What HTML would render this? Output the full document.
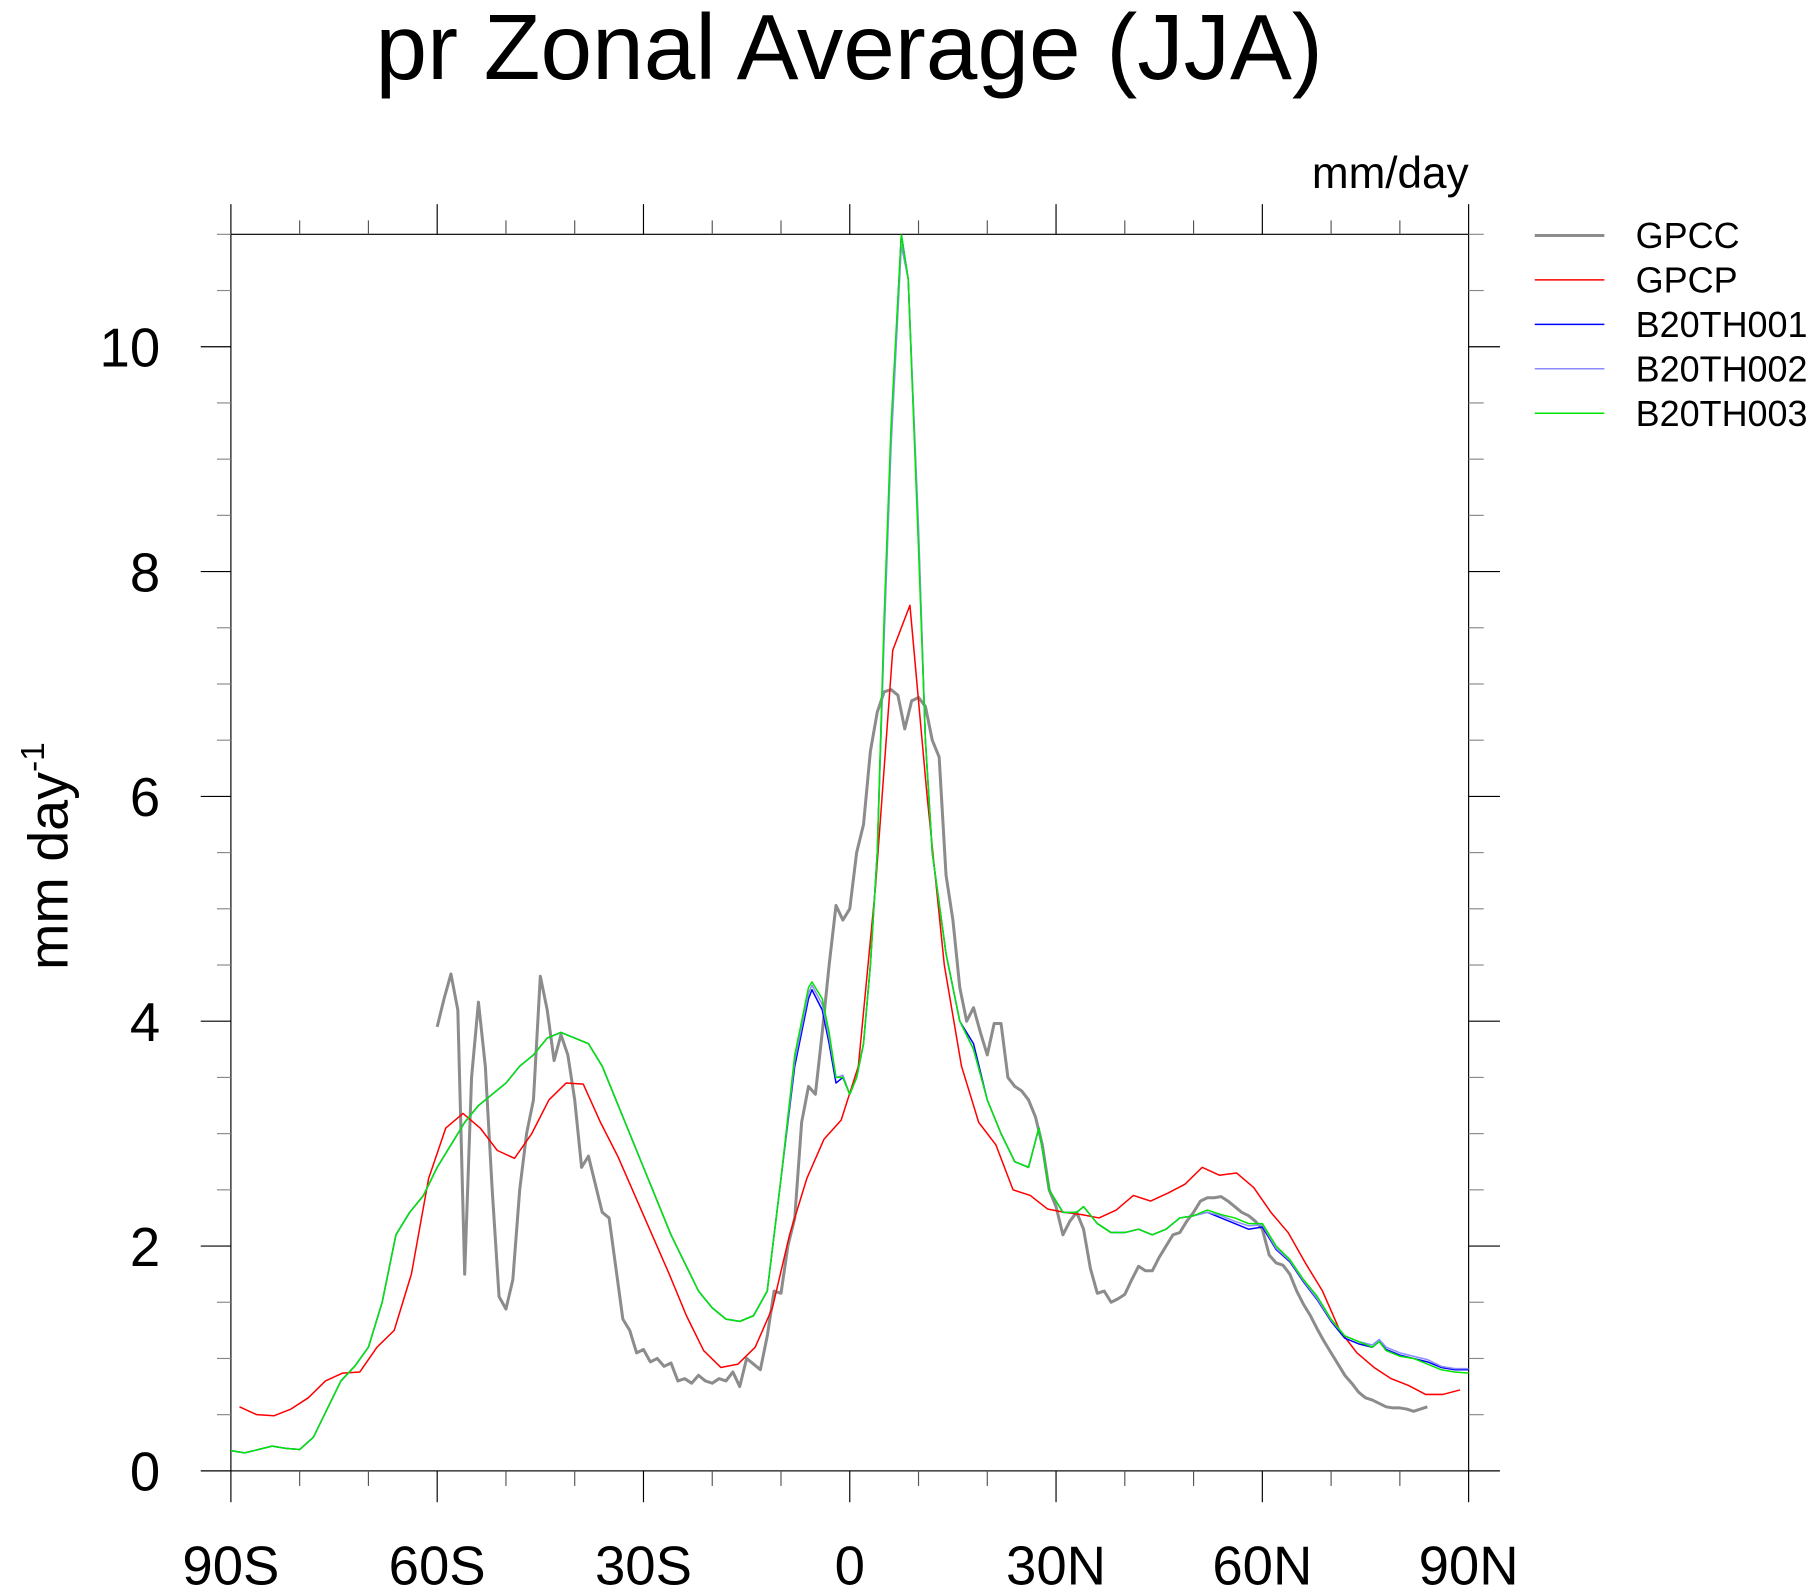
<!DOCTYPE html>
<html><head><meta charset="utf-8"><style>html,body{margin:0;padding:0;background:#fff}svg{display:block}text{font-family:"Liberation Sans",sans-serif}</style></head>
<body>
<svg id="chart" width="1819" height="1595" viewBox="0 0 1568 1375" xmlns="http://www.w3.org/2000/svg">
<text x="732" y="68" font-size="80" text-anchor="middle">pr Zonal Average (JJA)</text>
<text x="1266" y="162" font-size="38" text-anchor="end">mm/day</text>
<text transform="translate(58,738) rotate(-90)" font-size="48" text-anchor="middle">mm day<tspan font-size="29" dy="-20">-1</tspan></text>
<g id="axes"></g>
<g id="series"></g>
<g id="legend"></g>
</svg>
<script>
const xTickLats=[-90,-60,-30,0,30,60,90];
const xTickLabels=["90S","60S","30S","0","30N","60N","90N"];
const yTicks=[0,2,4,6,8,10];
const yTickLabels=["0","2","4","6","8","10"];

const gpccLat=[-60,-59,-58,-57,-56,-55,-54,-53,-52,-51,-50,-49,-48,-47,-46,-45,-44,-43,-42,-41,-40,-39,-38,-37,-36,-35,-34,-33,-32,-31,-30,-29,-28,-27,-26,-25,-24,-23,-22,-21,-20,-19,-18,-17,-16,-15,-14,-13,-12,-11,-10,-9,-8,-7,-6,-5,-4,-3,-2,-1,0,1,2,3,4,5,6,7,8,9,10,11,12,13,14,15,16,17,18,19,20,21,22,23,24,25,26,27,28,29,30,31,32,33,34,35,36,37,38,39,40,41,42,43,44,45,46,47,48,49,50,51,52,53,54,55,56,57,58,59,60,61,62,63,64,65,66,67,68,69,70,71,72,73,74,75,76,77,78,79,80,81,82,83,84];
const gpccVal=[3.95,4.2,4.42,4.1,1.75,3.5,4.17,3.6,2.5,1.55,1.44,1.7,2.5,3.0,3.3,4.4,4.1,3.65,3.88,3.7,3.3,2.7,2.8,2.55,2.3,2.25,1.8,1.35,1.25,1.05,1.08,0.97,1.0,0.93,0.96,0.8,0.82,0.78,0.85,0.8,0.78,0.82,0.8,0.88,0.75,1.0,0.95,0.9,1.2,1.6,1.58,2.0,2.25,3.1,3.42,3.35,3.9,4.5,5.03,4.9,5.0,5.5,5.75,6.4,6.75,6.93,6.95,6.9,6.6,6.85,6.88,6.8,6.5,6.35,5.3,4.9,4.3,4.0,4.12,3.9,3.7,3.98,3.98,3.5,3.42,3.38,3.3,3.15,2.9,2.5,2.35,2.1,2.22,2.3,2.15,1.8,1.58,1.6,1.5,1.53,1.57,1.7,1.82,1.78,1.78,1.9,2.0,2.1,2.12,2.22,2.3,2.4,2.43,2.43,2.44,2.4,2.35,2.3,2.27,2.22,2.15,1.92,1.85,1.83,1.75,1.6,1.48,1.38,1.26,1.15,1.05,0.95,0.85,0.78,0.7,0.65,0.63,0.6,0.57,0.56,0.56,0.55,0.53,0.55,0.57];

const gpcpLat=[-88.75,-86.25,-83.75,-81.25,-78.75,-76.25,-73.75,-71.25,-68.75,-66.25,-63.75,-61.25,-58.75,-56.25,-53.75,-51.25,-48.75,-46.25,-43.75,-41.25,-38.75,-36.25,-33.75,-31.25,-28.75,-26.25,-23.75,-21.25,-18.75,-16.25,-13.75,-11.25,-8.75,-6.25,-3.75,-1.25,1.25,3.75,6.25,8.75,11.25,13.75,16.25,18.75,21.25,23.75,26.25,28.75,31.25,33.75,36.25,38.75,41.25,43.75,46.25,48.75,51.25,53.75,56.25,58.75,61.25,63.75,66.25,68.75,71.25,73.75,76.25,78.75,81.25,83.75,86.25,88.75];
const gpcpVal=[0.57,0.5,0.49,0.55,0.65,0.8,0.87,0.88,1.1,1.25,1.75,2.6,3.05,3.18,3.05,2.85,2.78,3.0,3.3,3.45,3.44,3.1,2.8,2.45,2.1,1.75,1.38,1.07,0.92,0.95,1.1,1.45,2.1,2.6,2.95,3.12,3.6,5.2,7.3,7.7,6.0,4.5,3.6,3.1,2.9,2.5,2.45,2.33,2.3,2.28,2.25,2.32,2.45,2.4,2.47,2.55,2.7,2.63,2.65,2.52,2.3,2.12,1.85,1.6,1.25,1.05,0.92,0.82,0.76,0.68,0.68,0.72];

const modelLat=[-90,-88,-86,-84,-82,-80,-78,-76,-74,-72,-70,-68,-66,-64,-62,-60,-58,-56,-54,-52,-50,-48,-46,-44,-42,-40,-38,-36,-34,-32,-30,-28,-26,-24,-22,-20,-18,-16,-14,-12,-10,-8,-6,-5.5,-4,-3,-2,-1,0,1,2,3,4,5,6,7.5,8.5,10,11,12,14,16,18,20,22,24,26,27.5,29,31,33,34,36,38,40,42,44,46,48,50,52,54,56,58,60,62,64,66,68,70,72,74,76,77,78,80,82,84,86,88,90];
const b001Val=[0.18,0.16,0.19,0.22,0.2,0.19,0.3,0.55,0.8,0.93,1.1,1.5,2.1,2.3,2.45,2.7,2.9,3.1,3.25,3.35,3.45,3.6,3.7,3.85,3.9,3.85,3.8,3.6,3.3,3.0,2.7,2.4,2.1,1.85,1.6,1.45,1.35,1.33,1.38,1.6,2.6,3.6,4.2,4.28,4.1,3.8,3.45,3.5,3.35,3.5,3.8,4.5,5.5,7.5,9.2,11,10.6,8.3,6.5,5.5,4.6,4.0,3.8,3.3,3.0,2.75,2.7,3.05,2.5,2.3,2.3,2.35,2.2,2.12,2.12,2.15,2.1,2.15,2.25,2.27,2.3,2.25,2.2,2.15,2.17,1.97,1.86,1.68,1.52,1.33,1.18,1.13,1.1,1.15,1.08,1.03,1.0,0.97,0.92,0.9,0.9];
const b002Val=[0.18,0.16,0.19,0.22,0.2,0.19,0.3,0.55,0.8,0.93,1.1,1.5,2.1,2.3,2.45,2.7,2.9,3.1,3.25,3.35,3.45,3.6,3.7,3.85,3.9,3.85,3.8,3.6,3.3,3.0,2.7,2.4,2.1,1.85,1.6,1.45,1.35,1.33,1.38,1.6,2.6,3.65,4.25,4.32,4.15,3.85,3.5,3.52,3.35,3.5,3.8,4.5,5.5,7.4,9.1,10.9,10.6,8.4,6.5,5.5,4.6,4.0,3.75,3.3,3.0,2.75,2.7,3.05,2.5,2.3,2.3,2.35,2.2,2.12,2.12,2.15,2.1,2.15,2.25,2.27,2.3,2.27,2.22,2.18,2.19,1.98,1.87,1.69,1.53,1.34,1.2,1.15,1.12,1.17,1.1,1.05,1.02,0.99,0.93,0.91,0.91];
const b003Val=[0.18,0.16,0.19,0.22,0.2,0.19,0.3,0.55,0.8,0.93,1.1,1.5,2.1,2.3,2.45,2.7,2.9,3.1,3.25,3.35,3.45,3.6,3.7,3.85,3.9,3.85,3.8,3.6,3.3,3.0,2.7,2.4,2.1,1.85,1.6,1.45,1.35,1.33,1.38,1.6,2.6,3.7,4.3,4.35,4.2,3.9,3.5,3.5,3.35,3.5,3.8,4.5,5.5,7.6,9.3,11,10.6,8.2,6.5,5.5,4.6,4.0,3.75,3.3,3.0,2.75,2.7,3.05,2.5,2.3,2.3,2.35,2.2,2.12,2.12,2.15,2.1,2.15,2.25,2.27,2.32,2.28,2.25,2.2,2.2,2.0,1.88,1.7,1.55,1.35,1.2,1.15,1.1,1.15,1.07,1.02,1.0,0.95,0.9,0.88,0.87];

const NS="http://www.w3.org/2000/svg";
const X0=199,X1=1266,Y0=1268,Y1=202,YMAX=11;
const xs=lat=>X0+(lat+90)/180*(X1-X0);
const ys=v=>Y0-v/YMAX*(Y0-Y1);
function mk(tag,attrs,parent){const e=document.createElementNS(NS,tag);for(const k in attrs)e.setAttribute(k,attrs[k]);parent.appendChild(e);return e;}
const axes=document.getElementById('axes'),series=document.getElementById('series'),legend=document.getElementById('legend');

const frame=mk('rect',{x:X0,y:Y1,width:X1-X0,height:Y0-Y1,fill:'none',stroke:'#000','stroke-width':1},axes);


for(let lat=-90;lat<=90;lat+=10){
  const major=lat%30===0;const x=xs(lat);
  const tb=mk('line',{x1:x,x2:x,y1:Y0,y2:Y0+(major?27:13),stroke:major?'#000':'#555','stroke-width':1},axes);
  
  
  const tt=mk('line',{x1:x,x2:x,y1:Y1,y2:Y1-(major?26:12),stroke:major?'#000':'#555','stroke-width':1},axes);
  
  
}
xTickLats.forEach((lat,i)=>{
  const t=mk('text',{x:xs(lat),y:1366,'font-size':47,'text-anchor':'middle'},axes);t.textContent=xTickLabels[i];
  
  
});
for(let v=0;v<=11;v+=0.5){
  const major=Math.abs(v%2)<1e-9;const y=ys(v);
  const tl=mk('line',{x1:X0-(major?26:12),x2:X0,y1:y,y2:y,stroke:major?'#000':'#888','stroke-width':1},axes);
  
  
  const tr=mk('line',{x1:X1,x2:X1+(major?27:13),y1:y,y2:y,stroke:major?'#000':'#888','stroke-width':1},axes);
  
  
}
yTicks.forEach((v,i)=>{
  const t=mk('text',{x:138,y:ys(v)+17,'font-size':47,'text-anchor':'end'},axes);t.textContent=yTickLabels[i];
  
  
});

const defs=mk('defs',{},series);
mk('rect',{x:X0,y:Y1,width:X1-X0,height:Y0-Y1},mk('clipPath',{id:'clip'},defs));
function line(lats,vals,color,w,name){
  const d=lats.map((l,i)=>(i?'L':'M')+xs(l).toFixed(2)+','+ys(vals[i]).toFixed(2)).join('');
  const p=mk('path',{d:d,fill:'none',stroke:color,'stroke-width':w,'stroke-linejoin':'round','clip-path':'url(#clip)'},series);
  
  
}
line(gpccLat,gpccVal,'#8c8c8c',2.6,'gpcc-line');
line(gpcpLat,gpcpVal,'#ff0000',1.3,'gpcp-line');
line(modelLat,b001Val,'#0000ff',1.3,'b20th001-line');
line(modelLat,b002Val,'#8c8cff',1.3,'b20th002-line');
line(modelLat,b003Val,'#00e600',1.3,'b20th003-line');

const legNames=["GPCC","GPCP","B20TH001","B20TH002","B20TH003"];
const legColors=["#8c8c8c","#ff0000","#0000ff","#8c8cff","#00e600"];
const legWidths=[2.6,1.3,1.3,1.3,1.3];
legNames.forEach((n,i)=>{
  const y=203+i*38.3;
  const g=mk('g',{},legend);
  
  
  mk('line',{x1:1323,x2:1383,y1:y,y2:y,stroke:legColors[i],'stroke-width':legWidths[i]},g);
  const t=mk('text',{x:1410,y:y+11,'font-size':31},g);t.textContent=n;
});
</script>
</body></html>
